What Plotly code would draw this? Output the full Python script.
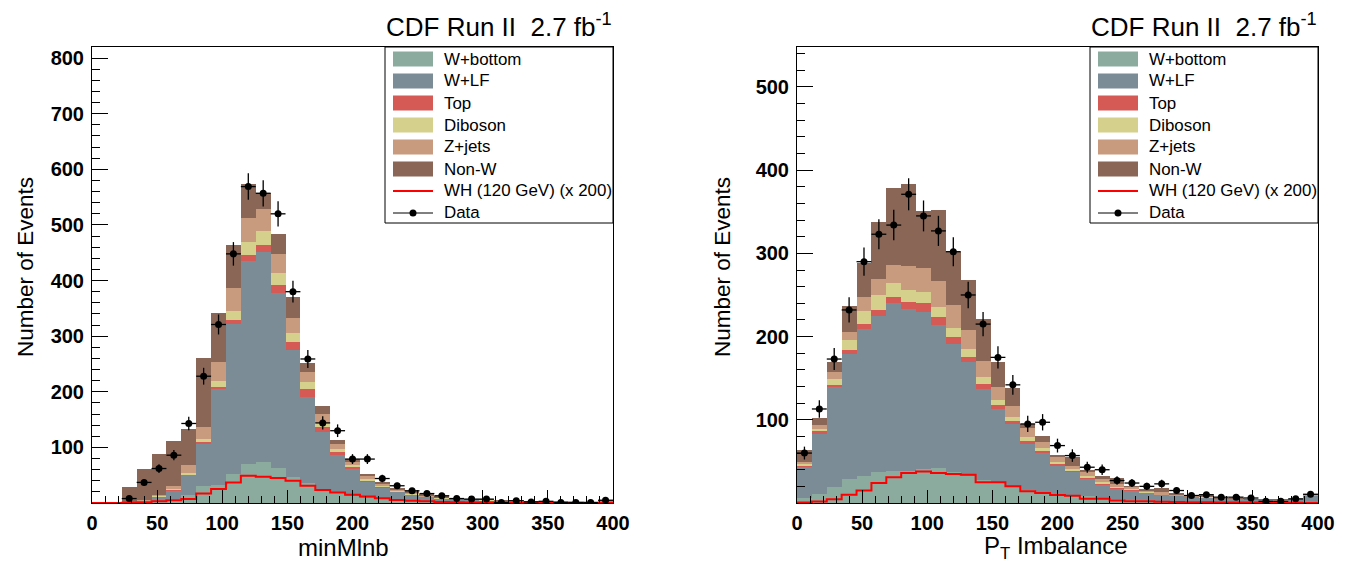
import numpy as np
import plotly.graph_objects as go

# The page body has an 8 px default margin; the figure is sized and positioned
# so that it lands exactly on the 1354x566 window.
PAGE_OFF = 8
W, H = 1354 - PAGE_OFF, 566 - PAGE_OFF
FONT = "Liberation Sans, Arial, Helvetica, sans-serif"

# ---------------- binning (35 bins over 0..400) ----------------
x_min, x_max, n_bins = 0.0, 400.0, 35

# ---------------- left panel: minMlnb ----------------
left_wbottom = [0, 0, 0.5, 1.5, 4, 8, 15, 30, 33, 52, 71, 74, 63, 47, 36, 26, 18, 12, 9, 7,
                5, 4, 3, 2.5, 2, 1.6, 1.3, 1.1, 0.9, 0.8, 0.7, 0.5, 0.4, 0.4, 1.0]
left_wlf = [0, 0, 1, 2, 7, 14, 35.4, 77, 172, 269, 364, 377, 315, 228, 155, 102, 68, 48.6, 29.4, 21,
            15, 11.6, 8.5, 6, 5, 4.2, 3.6, 2.9, 2.4, 2.2, 1.8, 1.5, 1.1, 1.1, 3.3]
left_top = [0, 0, 0.3, 0.5, 1, 2, 1.5, 2, 4, 8, 11, 13, 14, 14, 13.5, 9, 6.5, 3.6, 1.8, 1,
            0.9, 0.5, 0.3, 0.4, 0.3, 0.2, 0.2, 0.2, 0.1, 0.1, 0.1, 0.1, 0.1, 0.1, 0.1]
left_diboson = [0, 0, 0.3, 0.5, 1, 2, 2.7, 5.5, 11, 16, 24, 25, 22, 17, 12.5, 7, 5, 4, 3, 1.5,
                1, 0.8, 0.4, 0.4, 0.3, 0.3, 0.3, 0.2, 0.2, 0.2, 0.1, 0.1, 0.1, 0.1, 0.2]
left_zjets = [0, 0, 0.5, 1, 2, 4, 13.7, 22.5, 33, 41, 43, 39, 34, 26, 19, 16, 9, 6, 5.4, 4,
              3, 2.5, 1.5, 1.4, 0.6, 0.5, 0.4, 0.3, 0.3, 0.2, 0.2, 0.2, 0.1, 0.1, 0.3]
left_nonw = [0, 0, 25.4, 56.5, 73, 81, 64.2, 123, 88, 78, 60, 30, 36, 39, 15, 14.5, 6.5, 5.8, 3.4, 2,
             1.5, 1, 0.7, 0.8, 0.3, 0.2, 0.2, 0.1, 0.1, 0.1, 0.1, 0.0, 0.0, 0.0, 0.1]
left_wh = [0, 0, 0.5, 1, 3, 5, 7, 17, 25, 37, 49, 47, 45, 40, 31, 23.5, 19, 15, 11.5, 8.5,
           5.4, 4, 3, 1.8, 1.2, 1, 0.8, 0.6, 0.5, 0.5, 0.4, 0.3, 0.3, 0.2, 0.2]
left_data = [None, None, 8, 37, 62, 86, 143, 228, 321, 448, 569, 557, 520, 380, 259, 144, 130, 79, 79, 44,
             31, 22, 17, 13, 8, 7, 7, 1, 4, 2, 3, 1, 1, 1, 5]

# ---------------- right panel: P_T Imbalance ----------------
right_wbottom = [6, 11, 19, 29, 33, 37, 38, 39, 41, 42, 37, 33, 28, 24, 20, 16, 13, 11, 9, 8,
                 6, 5, 4, 3.5, 3, 2.2, 2, 1.8, 1.4, 1.4, 1.1, 1.0, 0.9, 1.0, 2.2]
right_wlf = [38, 73, 120, 150, 176, 188, 202, 194, 189, 172, 154, 136, 109, 89, 74.5, 55, 47, 34, 28.5, 21,
             16, 12, 11, 9, 7, 6.5, 5.5, 5, 3.6, 3.6, 2.8, 2.6, 2.4, 2.8, 6.5]
right_top = [1, 2, 3, 5, 6, 7, 8, 8, 10, 9, 9, 7, 6, 5, 4, 4, 3, 2, 2, 1.5,
             2, 1.5, 1, 0.5, 0.3, 0.3, 0.2, 0.2, 0.1, 0.1, 0.1, 0.1, 0.1, 0.1, 0.2]
right_diboson = [1.5, 3, 7, 12, 16, 18, 16, 15, 14, 13, 10, 8.5, 8, 6, 5, 4, 3, 2, 1.5, 1.5,
                 1, 1, 0.5, 0.5, 0.5, 0.3, 0.3, 0.3, 0.2, 0.2, 0.1, 0.1, 0.1, 0.1, 0.2]
right_zjets = [2.5, 5, 8, 10, 16, 19, 22, 29, 28, 31, 28, 24, 20, 16, 13, 11, 7, 6, 4, 6,
               5, 3.5, 3, 1.5, 2, 1, 0.6, 0.6, 0.4, 0.4, 0.3, 0.3, 0.2, 0.3, 0.6]
right_nonw = [15, 8, 12, 31, 42, 69, 93, 98, 69, 85, 64, 60, 50, 29, 22, 5, 7, 3, 10, 1,
              2, 6.5, 0.5, 1, 4.9, 0.7, 0.4, 0.6, 0.3, 0.3, 0.2, 0.5, 0.2, 0.3, 0.3]
right_wh = [0.6, 1.8, 4.6, 9.8, 15, 24, 31, 36, 38, 36, 35, 34, 25, 25, 20, 14, 12, 9.5, 8.6, 5,
            5, 3, 2, 2, 1.5, 1.2, 1, 0.8, 0.7, 0.6, 0.5, 0.4, 0.4, 0.3, 0.3]
right_data = [60, 113, 173, 232, 290, 323, 334, 371, 345, 327, 302, 250, 215, 175, 142, 95, 97, 69, 57, 43,
              40, 27, 24, 20, 23, 15, 9, 10, 7, 7, 6, 2, 2, 5, 10.5]

# ---------------- labels / styles ----------------
process_names = ["W+bottom", "W+LF", "Top", "Diboson", "Z+jets", "Non-W"]
process_colors = ["#8cab9f", "#7b8c97", "#d55a56", "#d5d08b", "#c99b7e", "#8a6657"]
signal_label = "WH (120 GeV) (x 200)"
data_label = "Data"
x_titles = ["minMlnb", "P<sub>T</sub> Imbalance"]
y_title = "Number of Events"
title_text = "CDF Run II\u00a0\u00a02.7 fb<sup>-1</sup>"
x_ticks = list(range(0, 401, 50))
left_y_ticks = list(range(100, 801, 100))
right_y_ticks = list(range(100, 501, 100))
left_y_range = [0, 820]
right_y_range = [0, 548]

edges = np.linspace(x_min, x_max, n_bins + 1)
centers = 0.5 * (edges[:-1] + edges[1:])
bin_w = edges[1] - edges[0]

# window-pixel -> paper-fraction helpers (margins are zero; paper == full figure)
def fx(px):
    return (px - PAGE_OFF) / W

def fy(py):
    return 1 - (py - PAGE_OFF) / H

PLOT_TOP, PLOT_BOT = 47, 503
panels = [
    dict(xa="x", ya="y", px=(92, 613),
         comps=[left_wbottom, left_wlf, left_top, left_diboson, left_zjets, left_nonw],
         wh=left_wh, data=left_data, yrange=left_y_range, yticks=left_y_ticks,
         xtitle=x_titles[0], xtitle_cx=343, ytitle_cx=25),
    dict(xa="x2", ya="y2", px=(797, 1318),
         comps=[right_wbottom, right_wlf, right_top, right_diboson, right_zjets, right_nonw],
         wh=right_wh, data=right_data, yrange=right_y_range, yticks=right_y_ticks,
         xtitle=x_titles[1], xtitle_cx=1056, ytitle_cx=722),
]

fig = go.Figure()
shapes = []
annotations = []

for p in panels:
    for name, color, vals in zip(process_names, process_colors, p["comps"]):
        fig.add_trace(go.Bar(
            x=centers, y=vals, width=bin_w, name=name,
            marker=dict(color=color, line=dict(width=0)),
            xaxis=p["xa"], yaxis=p["ya"], showlegend=False, hoverinfo="skip"))
    wh = list(p["wh"])
    fig.add_trace(go.Scatter(
        x=edges, y=wh + [wh[-1]], mode="lines", name=signal_label,
        line=dict(color="#ff0000", width=2, shape="hv"),
        xaxis=p["xa"], yaxis=p["ya"], showlegend=False, hoverinfo="skip"))
    d = np.array([np.nan if v is None else v for v in p["data"]], dtype=float)
    fig.add_trace(go.Scatter(
        x=centers, y=d, mode="markers", name=data_label,
        marker=dict(color="black", size=7),
        error_x=dict(type="constant", value=bin_w / 2, width=0, thickness=1.3, color="black"),
        error_y=dict(type="data", array=np.sqrt(d), width=0, thickness=1.3, color="black"),
        xaxis=p["xa"], yaxis=p["ya"], showlegend=False, hoverinfo="skip"))

    # ---- title above panel
    annotations.append(dict(text=title_text, x=fx(p["px"][1] + 1), y=fy(25), xref="paper", yref="paper",
                            xanchor="right", yanchor="middle", showarrow=False,
                            font=dict(family=FONT, size=26, color="black")))
    # ---- axis titles
    annotations.append(dict(text=p["xtitle"], x=fx(p["xtitle_cx"]), y=fy(547), xref="paper", yref="paper",
                            xanchor="center", yanchor="middle", showarrow=False,
                            font=dict(family=FONT, size=24, color="black")))
    annotations.append(dict(text=y_title, x=fx(p["ytitle_cx"]), y=fy(267), xref="paper", yref="paper",
                            xanchor="center", yanchor="middle", showarrow=False, textangle=-90,
                            font=dict(family=FONT, size=22.5, color="black")))

    # ---- manual legend box
    lx0 = p["px"][1] - 228
    lx1 = p["px"][1]
    shapes.append(dict(type="rect", xref="paper", yref="paper",
                       x0=fx(lx0), x1=fx(lx1), y0=fy(223), y1=fy(PLOT_TOP),
                       line=dict(color="black", width=1), fillcolor="white", layer="above"))
    row_y = [59 + 22 * i for i in range(8)]
    sw0, sw1 = lx0 + 8, lx0 + 48
    for i, (name, color) in enumerate(zip(process_names, process_colors)):
        shapes.append(dict(type="rect", xref="paper", yref="paper",
                           x0=fx(sw0), x1=fx(sw1), y0=fy(row_y[i] + 7.5), y1=fy(row_y[i] - 7.5),
                           line=dict(width=0), fillcolor=color, layer="above"))
    shapes.append(dict(type="line", xref="paper", yref="paper",
                       x0=fx(sw0), x1=fx(sw1), y0=fy(row_y[6]), y1=fy(row_y[6]),
                       line=dict(color="#ff0000", width=2), layer="above"))
    shapes.append(dict(type="line", xref="paper", yref="paper",
                       x0=fx(sw0), x1=fx(sw1), y0=fy(row_y[7]), y1=fy(row_y[7]),
                       line=dict(color="black", width=1), layer="above"))
    cxm = (sw0 + sw1) / 2
    shapes.append(dict(type="circle", xref="paper", yref="paper",
                       x0=fx(cxm - 3.5), x1=fx(cxm + 3.5), y0=fy(row_y[7] + 3.5), y1=fy(row_y[7] - 3.5),
                       line=dict(width=0), fillcolor="black", layer="above"))
    for i, label in enumerate(process_names + [signal_label, data_label]):
        annotations.append(dict(text=label, x=fx(lx0 + 57), y=fy(row_y[i]), xref="paper", yref="paper",
                                xanchor="left", yanchor="middle", showarrow=False,
                                font=dict(family=FONT, size=16.9, color="black")))


def xaxis_cfg(px, anchor):
    return dict(domain=[fx(px[0]), fx(px[1])], range=[x_min, x_max], anchor=anchor,
                automargin=False,
                tickmode="array", tickvals=x_ticks, ticks="inside", ticklen=13, tickwidth=1,
                tickcolor="black",
                minor=dict(tickmode="linear", tick0=0, dtick=10, ticks="inside", ticklen=7,
                           tickwidth=1, tickcolor="black", showgrid=False),
                showline=True, linecolor="black", linewidth=1, mirror=True,
                showgrid=False, zeroline=False, ticklabelstandoff=2,
                tickfont=dict(family=FONT, size=20, color="black", weight="bold"))


def yaxis_cfg(yr, ticks, anchor):
    return dict(domain=[fy(PLOT_BOT), fy(PLOT_TOP)], range=yr, anchor=anchor,
                automargin=False,
                tickmode="array", tickvals=ticks, ticks="inside", ticklen=16, tickwidth=1,
                tickcolor="black",
                minor=dict(tickmode="linear", tick0=0, dtick=20, ticks="inside", ticklen=8,
                           tickwidth=1, tickcolor="black", showgrid=False),
                showline=True, linecolor="black", linewidth=1, mirror=True,
                showgrid=False, zeroline=False, ticklabelstandoff=3,
                tickfont=dict(family=FONT, size=20, color="black", weight="bold"))


fig.update_layout(
    width=W, height=H,
    margin=dict(l=0, r=0, t=0, b=0, pad=0, autoexpand=False),
    paper_bgcolor="white", plot_bgcolor="white",
    barmode="stack", bargap=0,
    showlegend=False,
    xaxis=xaxis_cfg(panels[0]["px"], "y"),
    yaxis=yaxis_cfg(left_y_range, left_y_ticks, "x"),
    xaxis2=xaxis_cfg(panels[1]["px"], "y2"),
    yaxis2=yaxis_cfg(right_y_range, right_y_ticks, "x2"),
    shapes=shapes,
    annotations=annotations,
)

fig.write_html("out.html")
